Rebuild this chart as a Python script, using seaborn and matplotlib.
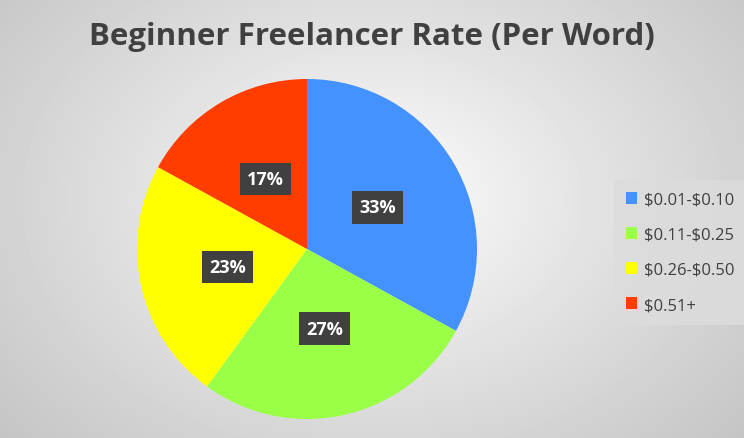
import numpy as np
import pandas as pd
import matplotlib
matplotlib.use("Agg")
import matplotlib.pyplot as plt
import seaborn as sns

# data
categories = ["$0.01-$0.10", "$0.11-$0.25", "$0.26-$0.50", "$0.51+"]
shares = [33, 27, 23, 17]
colors = ["#4492FF", "#99FF47", "#FFFF00", "#FF3D00"]

df = pd.DataFrame({"rate": categories, "share": shares})

sns.set_theme(style="white")
plt.rcParams["font.family"] = ["Open Sans", "DejaVu Sans"]
plt.rcParams["text.parse_math"] = False  # keep the $ signs literal

fig = plt.figure(figsize=(7.44, 4.39), dpi=100)

# radial gradient background, like the Excel chart area
bg = fig.add_axes([0, 0, 1, 1])
yy, xx = np.mgrid[0:439, 0:744]
d = np.sqrt(((xx - 372) / 520.0) ** 2 + ((yy - 200) / 380.0) ** 2)
shade = 1.0 - 0.24 * np.clip(d, 0, 1) ** 0.9
bg.imshow(shade, cmap="gray", vmin=0, vmax=1, aspect="auto", extent=[0, 1, 0, 1])
bg.set_axis_off()

ax = fig.add_axes([137 / 744, 19 / 439, 340 / 744, 340 / 439])
wedges, texts, autotexts = ax.pie(
    df["share"], colors=colors, startangle=90, counterclock=False,
    autopct="%d%%", pctdistance=0.48,
    wedgeprops=dict(linewidth=0),
    textprops=dict(color="white", fontsize=13, fontweight="bold"),
)
ax.set_xlim(-1, 1)
ax.set_ylim(-1, 1)
for t in autotexts:
    t.set_bbox(dict(boxstyle="square,pad=0.4", fc="#404040", ec="none"))

fig.text(0.5, 0.915, "Beginner Freelancer Rate (Per Word)", ha="center", va="center",
         fontsize=22.5, fontweight="bold", color="#404040")

leg = fig.legend(wedges, categories, loc="upper left",
                 bbox_to_anchor=(614 / 744, 1 - 181 / 439), borderaxespad=0,
                 frameon=True, fontsize=12, handlelength=0.7, handleheight=0.7,
                 labelspacing=1.15, borderpad=0.7, handletextpad=0.4)
frame = leg.get_frame()
frame.set_facecolor("#dcdcdc")
frame.set_edgecolor("none")
frame.set_alpha(0.85)
frame.set_boxstyle("square", pad=0)
for t in leg.get_texts():
    t.set_color("#404040")

fig.savefig("out.png", dpi=100)
